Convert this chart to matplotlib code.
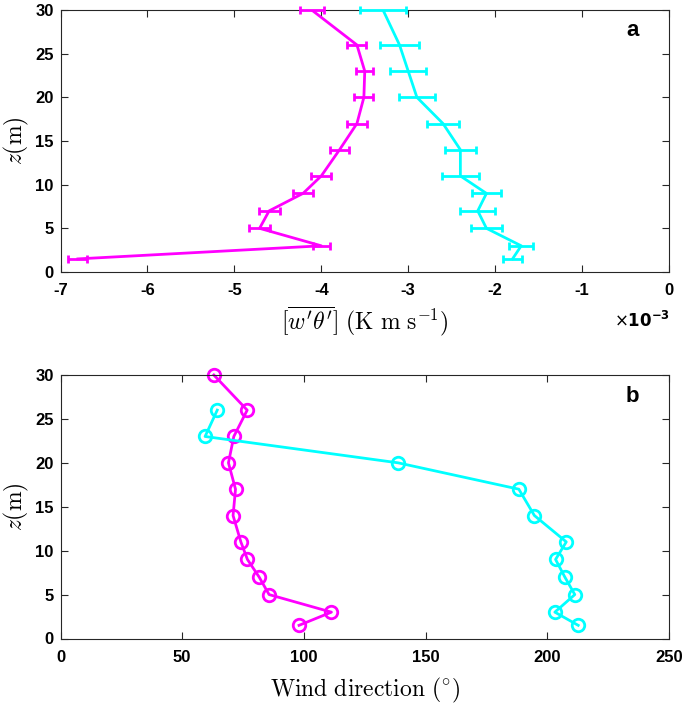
import numpy as np
import matplotlib
matplotlib.use("Agg")
import matplotlib.pyplot as plt

plt.rcParams['mathtext.fontset'] = 'cm'
plt.rcParams['axes.unicode_minus'] = False
plt.rcParams['font.family'] = ['Liberation Sans', 'DejaVu Sans']

# heights (m)
z = [1.5, 3, 5, 7, 9, 11, 14, 17, 20, 23, 26, 30]

# panel a: heat flux, units of 1e-3 K m s^-1
flux_m = [-6.8, -4.0, -4.71, -4.60, -4.21, -4.0, -3.79, -3.59, -3.51, -3.50, -3.59, -4.11]
err_m = [0.11, 0.10, 0.12, 0.12, 0.115, 0.115, 0.11, 0.115, 0.11, 0.10, 0.11, 0.14]
flux_c = [-1.80, -1.70, -2.10, -2.20, -2.10, -2.40, -2.40, -2.60, -2.90, -3.0, -3.10, -3.29]
err_c = [0.11, 0.14, 0.18, 0.20, 0.165, 0.21, 0.18, 0.18, 0.21, 0.21, 0.22, 0.26]

# panel b: wind direction (deg)
wd_m = [98.0, 111.3, 85.7, 81.6, 76.8, 74.1, 70.9, 71.9, 69.0, 71.2, 76.7, 63.0]
z_c2 = [1.5, 3, 5, 7, 9, 11, 14, 17, 20, 23, 26]
wd_c = [212.7, 203.1, 211.3, 207.2, 203.4, 207.8, 194.7, 188.3, 138.7, 59.4, 64.4]

MAG = (1, 0, 1)
CYA = (0, 1, 1)
AXC = (0.15, 0.15, 0.15)

fig = plt.figure(figsize=(6.85, 7.06), dpi=100)
W, H = 685, 706
ax1 = fig.add_axes([60.5 / W, 1 - 272 / H, 608.5 / W, 262 / H])
ax2 = fig.add_axes([60.5 / W, 1 - 638.5 / H, 608.5 / W, 263.5 / H])

for fx, er, col in [(flux_m, err_m, MAG), (flux_c, err_c, CYA)]:
    eb = ax1.errorbar(fx, z, xerr=er, color=col, lw=2, capsize=2.8, capthick=2,
                      elinewidth=2, zorder=3)
    for art in list(eb.lines[1]) + list(eb.lines[2]):
        art.set_clip_on(False)
ax1.set_xlim(-7, 0)
ax1.set_xticks(range(-7, 1))

ax2.plot(wd_m, z, color=MAG, lw=2, marker='o', ms=9, mfc='none', mew=2, clip_on=False)
ax2.plot(wd_c, z_c2, color=CYA, lw=2, marker='o', ms=9, mfc='none', mew=2, clip_on=False)
ax2.set_xlim(0, 250)
ax2.set_xticks(range(0, 251, 50))

for ax, lab in [(ax1, 'a'), (ax2, 'b')]:
    ax.set_ylim(0, 30)
    ax.set_yticks(range(0, 31, 5))
    ax.tick_params(direction='in', top=True, right=True, length=5, width=0.8,
                   color=AXC, labelsize=12)
    ax.tick_params(axis='x', pad=8)
    ax.tick_params(axis='y', pad=5)
    for t in ax.get_xticklabels() + ax.get_yticklabels():
        t.set_fontweight('bold')
    for s in ax.spines.values():
        s.set_color(AXC)
        s.set_linewidth(0.8)
    ax.set_ylabel(r'$z(\mathrm{m})$', fontsize=17, labelpad=3)
    ax.text(0.94, 0.92, lab, transform=ax.transAxes, fontsize=16, fontweight='bold',
            ha='center', va='center')

ax1.set_xlabel(r"$[\overline{w'\theta'}]\ (\mathrm{K\ m\ s^{-1}})$", fontsize=17, labelpad=5)
ax2.set_xlabel(r'$\mathrm{Wind\ direction\ (^{\circ})}$', fontsize=17, labelpad=8)
ax1.text(1.002, -0.209, r'$\times\mathbf{10^{-3}}$', transform=ax1.transAxes,
         fontsize=12, fontweight='bold', ha='right', va='baseline',
         math_fontfamily='dejavusans')

fig.savefig('out.png', dpi=100)
